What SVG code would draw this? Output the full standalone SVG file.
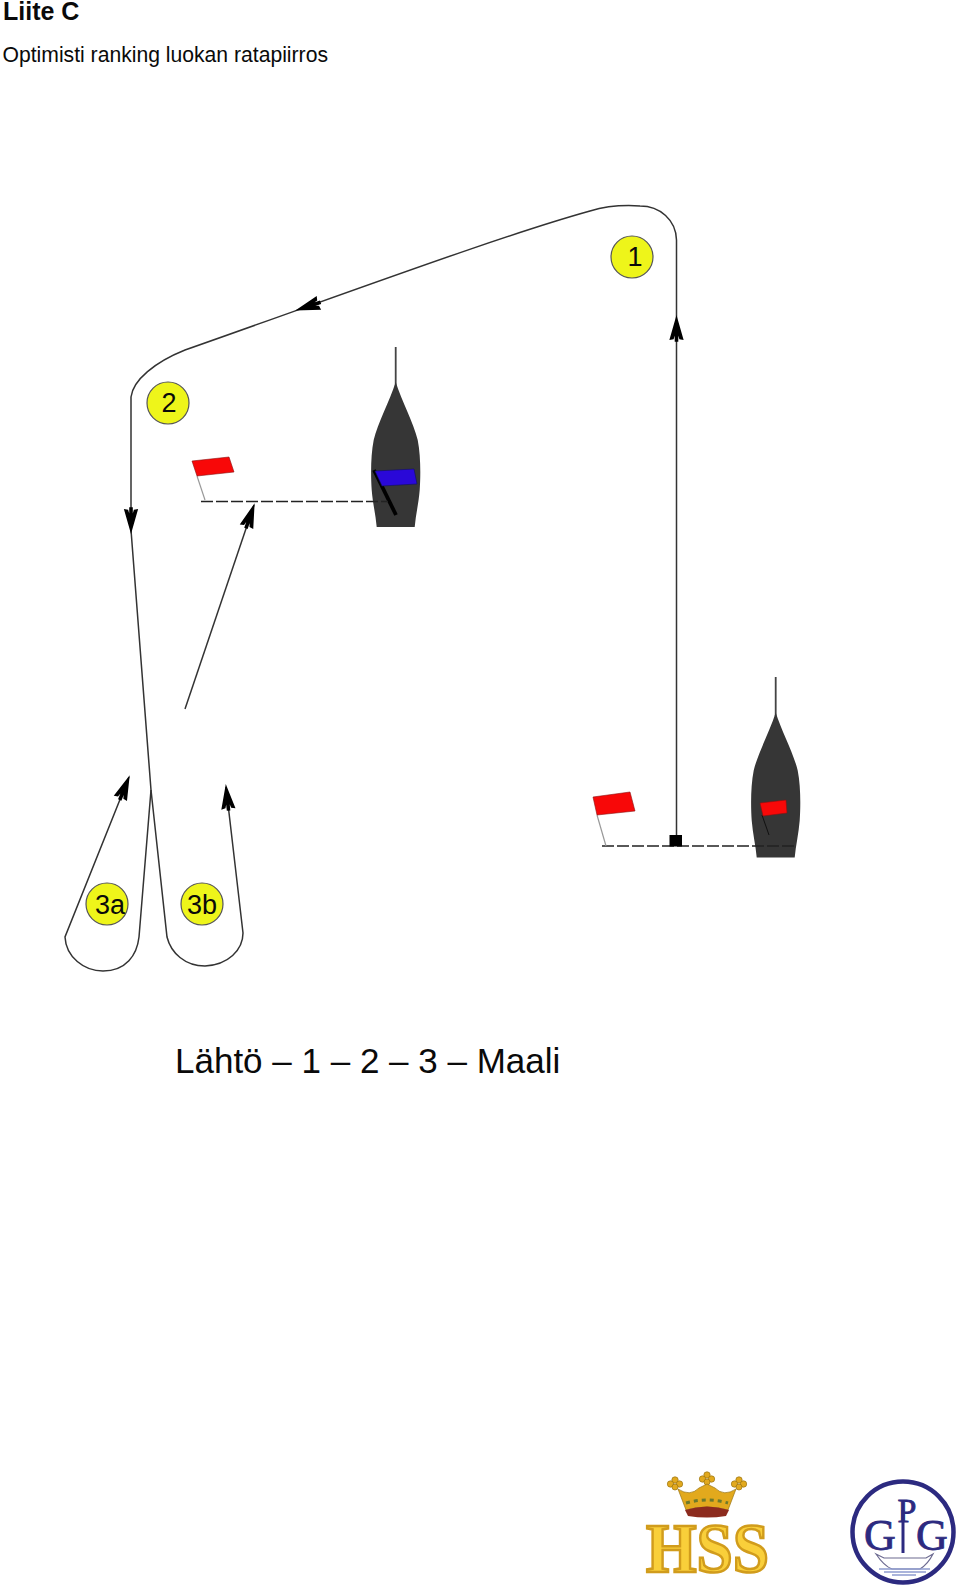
<svg xmlns="http://www.w3.org/2000/svg" width="960" height="1590" viewBox="0 0 960 1590">
<style>
text{font-family:"Liberation Sans",Arial,sans-serif;fill:#0a0a0a}
.route{fill:none;stroke:#333;stroke-width:1.5}
.dash{fill:none;stroke:#222;stroke-width:1.5;stroke-dasharray:12 3}
.head{fill:#000;stroke:#000;stroke-width:1.6;stroke-linejoin:miter}
.mark{fill:#eef51a;stroke:#555;stroke-width:1.2}
.num{font-size:27px;text-anchor:middle}
.hull{fill:#363636}
.mast{stroke:#444;stroke-width:1.8}
.red{fill:#f80808;stroke:#8a1010;stroke-width:.6}
.pole{stroke:#999;stroke-width:1.2}
.hss{font-family:"Liberation Serif",serif;font-weight:bold;font-size:70px;fill:#f9cf3a;stroke:#d19c1c;stroke-width:2.600}
.gpg{font-family:"Liberation Serif",serif;fill:#2c2a80;stroke:#2c2a80;stroke-width:.8}
.navy{fill:none;stroke:#2c2a80}
.gold{fill:#e2a91d;stroke:#9a7414;stroke-width:.7}
</style>
<defs>
<path id="ah" class="head" d="M0 1 L6 22 L3.500 21.500 L1 13 V24 H-1 V13 L-3.500 21.500 L-6 22Z"/>
<path id="hull" class="hull" d="M0 -3 C-6 16 -18 38 -22 55 C-25 70 -25 90 -24 105 C-23 118 -20 130 -19 142 H19 C20 130 23 118 24 105 C25 90 25 70 22 55 C18 38 6 16 0 -3Z"/>
<g id="clover"><circle cx="0" cy="-5" r="3.200"/><circle cx="-4.500" cy="-1" r="3.200"/><circle cx="4.500" cy="-1" r="3.200"/><circle cx="0" cy="2" r="3"/></g>
</defs>
<rect width="960" height="1590" fill="#fff"/>
<g id="titles">
<text x="3" y="20" font-size="25" font-weight="bold">Liite C</text>
<text x="2.500" y="62" font-size="21.150">Optimisti ranking luokan ratapiirros</text>
<text x="175" y="1073" font-size="35">Lähtö – 1 – 2 – 3 – Maali</text>
</g>
<g id="boat-start">
<line class="mast" x1="395.700" y1="347" x2="395.700" y2="386"/>
<use href="#hull" transform="translate(395.700 385)"/>
<line x1="374" y1="470" x2="396" y2="515" stroke="#000" stroke-width="3.800"/>
<path d="M375 471 L414 469 L417 484 L382 486Z" fill="#2a08d8" stroke="#101060" stroke-width=".6"/>
</g>
<g id="boat-finish">
<line class="mast" x1="775.700" y1="677" x2="775.700" y2="716"/>
<use href="#hull" transform="translate(775.700 715.500)"/>
<line x1="762" y1="815" x2="769" y2="835" stroke="#111" stroke-width="1"/>
<path class="red" d="M760 803 L786 800 L787 813 L763 816Z"/>
</g>
<g id="connectors">
<path class="route" d="M676.500 835 V240 C676 220 660 206 640 206 C625 205 610 205 590 211 C500 236 350 292 185 350 C155 362 133 380 131 397 V530 L151 790"/>
<path class="route" d="M151 790 L139 937 C137 955 126 971 103 971 C84 971 66 957 65 937 L129 777"/>
<path class="route" d="M151 790 L167 937 C171 953 185 966 205 966 C228 965 243 950 243 933 L226 787"/>
<path class="route" d="M185 709 L254 505"/>
<path class="dash" d="M201 501.500 H388"/>
<path class="dash" d="M602 846 H795"/>
<use href="#ah" transform="translate(676.500 317)"/>
<use href="#ah" transform="translate(131 532) rotate(180)"/>
<use href="#ah" transform="translate(297 310) rotate(-108)"/>
<use href="#ah" transform="translate(254 505) rotate(19)"/>
<use href="#ah" transform="translate(129 777) rotate(22)"/>
<use href="#ah" transform="translate(226 786) rotate(-6)"/>
</g>
<g id="mark-1"><circle class="mark" cx="632" cy="257" r="21"/><text class="num" x="635" y="266">1</text></g>
<g id="mark-2"><circle class="mark" cx="168" cy="403" r="21"/><text class="num" x="169" y="412">2</text></g>
<g id="mark-3a"><circle class="mark" cx="107" cy="904" r="21"/><text class="num" x="110" y="914">3a</text></g>
<g id="mark-3b"><circle class="mark" cx="202" cy="904" r="21"/><text class="num" x="202" y="914">3b</text></g>
<g id="flag-start">
<line class="pole" x1="197" y1="476" x2="205" y2="500"/>
<path class="red" d="M192 461 L229 457 L234 472 L197 476Z"/>
</g>
<g id="flag-finish">
<line class="pole" x1="597" y1="815" x2="606" y2="846"/>
<path class="red" d="M593 797 L630 792 L635 811 L597 815Z"/>
</g>
<rect id="start-point" x="669.500" y="835" width="12.500" height="11.500" fill="#000"/>
<g id="logo-hss">
<use href="#clover" class="gold" transform="translate(675 1485)"/>
<use href="#clover" class="gold" transform="translate(707 1480)"/>
<use href="#clover" class="gold" transform="translate(739 1485)"/>
<path class="gold" d="M678 1489 Q690 1497 699 1488 L707 1484 L715 1488 Q724 1497 736 1489 L728 1510 Q707 1504 686 1510Z"/>
<path d="M686 1503 Q707 1497 728 1503" fill="none" stroke="#6d7a2c" stroke-width="3" stroke-dasharray="4 4"/>
<path d="M685 1510 Q707 1503 729 1510 L726 1516 Q707 1519 688 1516Z" fill="#8c2b1e"/>
<text class="hss" x="646" y="1572" textLength="123" lengthAdjust="spacingAndGlyphs">HSS</text>
</g>
<g id="logo-gpg">
<circle class="navy" cx="903" cy="1532" r="50.500" stroke-width="4.500"/>
<text class="gpg" x="880" y="1550" font-size="44" text-anchor="middle">G</text>
<text class="gpg" x="932" y="1550" font-size="44" text-anchor="middle">G</text>
<text class="gpg" x="907" y="1522" font-size="34" text-anchor="middle">P</text>
<line x1="903" y1="1510" x2="903" y2="1553" stroke="#2c2a80" stroke-width="3"/>
<path d="M876 1554 Q884 1566 892 1569 H920 Q928 1564 933 1554 L926 1558 H884Z" fill="none" stroke="#6c6a90" stroke-width="1.200"/>
<path d="M879 1569 H930 M884 1572 H926 M892 1575 H916" stroke="#8f9ccf" stroke-width="1.500" fill="none"/>
</g>
</svg>
